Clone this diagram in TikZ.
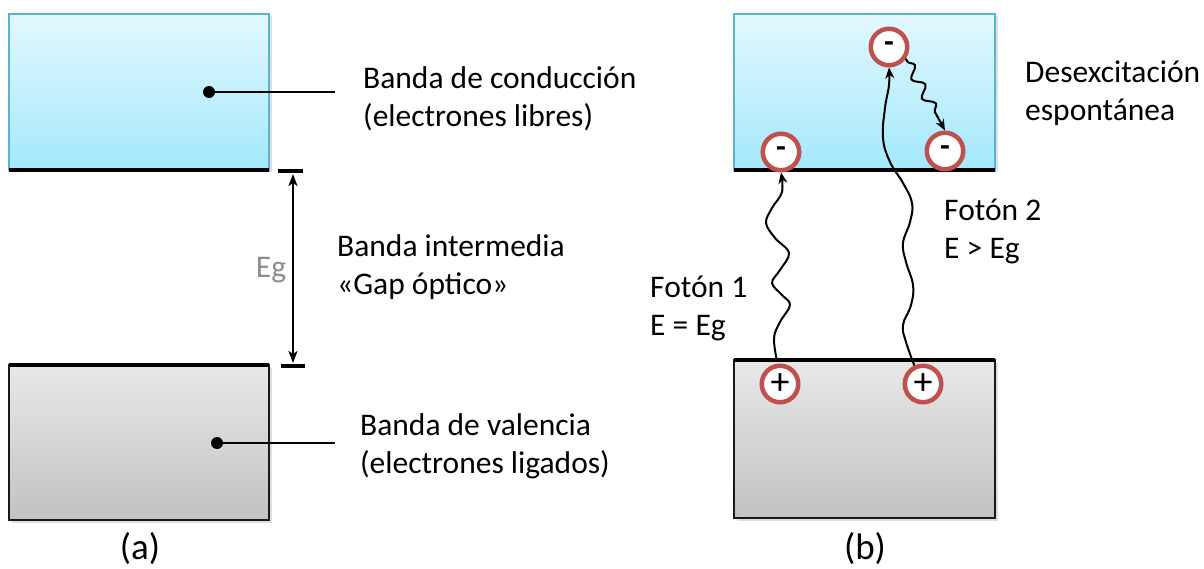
\documentclass[tikz,border=0pt]{standalone}
\usepackage{fontspec}
\setmainfont{Carlito}
\usetikzlibrary{arrows.meta,decorations.pathmorphing,shadows,calc}
\definecolor{ctop}{HTML}{E3F8FE}
\definecolor{cbot}{HTML}{A4E8FD}
\definecolor{cborder}{HTML}{5AB4CF}
\definecolor{gtop}{HTML}{E8E8E8}
\definecolor{gbot}{HTML}{C2C2C2}
\definecolor{redc}{HTML}{C0504D}
\definecolor{eggray}{HTML}{8C8C8C}
\begin{document}
\begin{tikzpicture}[x=1pt,y=-1pt,
  lbl/.style={font=\fontsize{31.5}{38}\selectfont, align=left, anchor=west, inner sep=0pt},
  captxt/.style={font=\fontsize{37}{44}\selectfont, inner sep=0pt},
  cbox/.style={top color=ctop, bottom color=cbot, draw=cborder, line width=1.8pt,
     drop shadow={opacity=0.25, shadow xshift=2.5pt, shadow yshift=-2.5pt}},
  gbox/.style={top color=gtop, bottom color=gbot, draw=black!90, line width=2.5pt,
     drop shadow={opacity=0.25, shadow xshift=2.5pt, shadow yshift=-2.5pt}},
  bandedge/.style={line width=4.5pt, black},
  dot/.style={circle, fill=black, inner sep=0pt, minimum size=12pt},
  lead/.style={line width=2pt},
  carrier/.style={circle, draw=redc, line width=4.5pt, fill=white, minimum size=36.5pt,
     inner sep=0pt},
  minus/.style={font=\fontsize{32}{32}\selectfont\bfseries},
  plus/.style={font=\fontsize{38}{38}\selectfont},
  photon/.style={line width=2pt, -{Stealth[length=11pt,width=9pt]}},
]
\useasboundingbox (0,0) rectangle (1204,569);

% ---------- (a) ----------
\path[cbox] (9,14) rectangle (269,170);
\draw[bandedge] (9,170) -- (269,170);
\path[gbox] (9,365) rectangle (269,520);
\draw[bandedge] (9,365) -- (269,365);

\node[dot] (d1) at (209,92) {};
\coordinate (e1) at (335,92);
\draw[lead] (d1.center) -- (e1);
\node[dot] (d2) at (217,443) {};
\coordinate (e2) at (335,443);
\draw[lead] (d2.center) -- (e2);

\coordinate (t1a) at (278,171);
\coordinate (t1b) at (303,171);
\coordinate (t2a) at (281,366);
\coordinate (t2b) at (305,366);
\draw[line width=4.5pt] (t1a) -- (t1b);
\draw[line width=4.5pt] (t2a) -- (t2b);
\coordinate (eg1) at (293,174);
\coordinate (eg2) at (293,363);
\draw[line width=2pt, {Stealth[length=12pt,width=9pt,inset=3pt]}-{Stealth[length=12pt,width=9pt,inset=3pt]}] (eg1) -- (eg2);
\node[lbl, anchor=center, text=eggray] (eg) at (271,270) {Eg};

\node[lbl] (lc) at (363,99) {Banda de conducción\\(electrones libres)};
\node[lbl] (li) at (337,267) {Banda intermedia\\«Gap óptico»};
\node[lbl] (lv) at (360,446) {Banda de valencia\\(electrones ligados)};
\node[captxt] (ca) at (140,549) {(a)};

% ---------- (b) ----------
\path[cbox] (734,14) rectangle (995,170);
\draw[bandedge] (734,170) -- (995,170);
\path[gbox] (734,360) rectangle (995,518);
\draw[bandedge] (734,360) -- (995,360);

\node[carrier, minus] (n1) at (781,152) {-};
\node[carrier, minus] (n2) at (889,47) {-};
\node[carrier, minus] (n3) at (945,151) {-};
\node[carrier, plus] (p1) at (780,384) {+};
\node[carrier, plus] (p2) at (923,384) {+};

\draw[photon] plot[smooth, tension=0.6] coordinates {($(p1.north)+(-3,-2)$) (774,338) (780,322) (790,305) (782,295) (772,283) (780,270) (789,253) (775,238) (766,223) (772,208) (782,192) (n1.south)};
\draw[photon] plot[smooth, tension=0.7] coordinates {(p2.115) (906,342) (903,325) (911,305) (913,285) (906,262) (903,243) (910,222) (912,203) (903,183) (890,162) (883,138) (885,108) (889,85) (n2.south)};
\draw[photon, decorate, decoration={snake, segment length=22pt, amplitude=5pt, pre length=3pt, post length=12pt}]
  (n2.-35) -- (n3.north);

\node[lbl] (f1) at (650,308) {Fotón 1\\E = Eg};
\node[lbl] (f2) at (944,231) {Fotón 2\\E > Eg};
\node[lbl] (ds) at (1025,93) {Desexcitación\\espontánea};
\node[captxt] (cb) at (865,549) {(b)};
\end{tikzpicture}
\end{document}
